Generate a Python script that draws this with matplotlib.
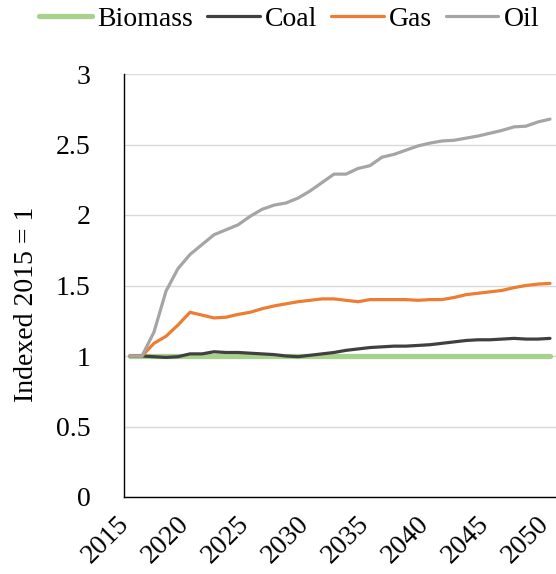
import matplotlib
matplotlib.use('Agg')
import matplotlib.pyplot as plt
from matplotlib.transforms import ScaledTranslation

years = list(range(2015, 2051))
biomass = [1.00, 1.00, 1.00, 1.00, 1.00, 1.00, 1.00, 1.00, 1.00, 1.00, 1.00, 1.00,
           1.00, 1.00, 1.00, 1.00, 1.00, 1.00, 1.00, 1.00, 1.00, 1.00, 1.00, 1.00,
           1.00, 1.00, 1.00, 1.00, 1.00, 1.00, 1.00, 1.00, 1.00, 1.00, 1.00, 1.00]
coal = [1.00, 1.00, 0.995, 0.99, 0.995, 1.015, 1.015, 1.03, 1.025, 1.025, 1.02, 1.015,
        1.01, 1.00, 0.995, 1.005, 1.015, 1.025, 1.04, 1.05, 1.06, 1.065, 1.07, 1.07,
        1.075, 1.08, 1.09, 1.10, 1.11, 1.115, 1.115, 1.12, 1.125, 1.12, 1.12, 1.125]
gas = [1.00, 1.00, 1.09, 1.14, 1.22, 1.31, 1.29, 1.27, 1.275, 1.295, 1.31, 1.335,
       1.355, 1.37, 1.385, 1.395, 1.405, 1.405, 1.395, 1.385, 1.40, 1.40, 1.40, 1.40,
       1.395, 1.40, 1.40, 1.415, 1.435, 1.445, 1.455, 1.465, 1.485, 1.50, 1.51, 1.515]
oil = [1.00, 1.00, 1.17, 1.46, 1.62, 1.72, 1.79, 1.86, 1.895, 1.93, 1.99, 2.04,
       2.07, 2.085, 2.12, 2.17, 2.23, 2.29, 2.29, 2.33, 2.35, 2.41, 2.43, 2.46,
       2.49, 2.51, 2.525, 2.53, 2.545, 2.56, 2.58, 2.60, 2.625, 2.63, 2.66, 2.68]
xticks = [2015, 2020, 2025, 2030, 2035, 2040, 2045, 2050]
yticks = [0, 0.5, 1, 1.5, 2, 2.5, 3]
ytick_labels = ['0', '0.5', '1', '1.5', '2', '2.5', '3']

plt.rcParams['font.family'] = ['Liberation Serif', 'DejaVu Serif']
plt.rcParams['font.size'] = 20

fig = plt.figure(figsize=(5.56, 5.74), dpi=100)
ax = fig.add_axes([124/556, 1 - 497/574, 432/556, 423/574])

ax.plot(years, biomass, color='#A9D18E', lw=3.8, solid_capstyle='round', label='Biomass')
ax.plot(years, coal, color='#404040', lw=2.3, solid_capstyle='round', label='Coal')
ax.plot(years, gas, color='#ED7D31', lw=2.3, solid_capstyle='round', label='Gas')
ax.plot(years, oil, color='#A5A5A5', lw=2.3, solid_capstyle='round', label='Oil')

ax.set_xlim(2014.5, 2050.5)
ax.set_ylim(0, 3)
ax.set_yticks(yticks)
ax.set_yticklabels(ytick_labels)
ax.set_xticks(xticks)
ax.set_xticklabels([str(x) for x in xticks], rotation=45, ha='right',
                   rotation_mode='anchor', va='center')
ax.tick_params(axis='y', length=0, pad=24)
ax.tick_params(axis='x', length=0, pad=17)
ax.grid(axis='y', color='#D9D9D9', lw=1.0)
ax.set_axisbelow(True)
for s in ['top', 'right']:
    ax.spines[s].set_visible(False)
for s in ['left', 'bottom']:
    ax.spines[s].set_color('black')
    ax.spines[s].set_linewidth(1.0)

ax.set_ylabel('Indexed 2015 = 1')
ax.yaxis.set_label_coords(-0.197, 0.456)

fig.legend(loc='upper left', bbox_to_anchor=(38/556, 1 - 5/574), ncol=4, frameon=False,
           handlelength=1.9, handletextpad=0.18, columnspacing=0.5,
           borderpad=0.05, borderaxespad=0)

# nudge rotated year labels a little to the left (after ticks exist)
fig.canvas.draw()
shift = ScaledTranslation(-5/100, 0, fig.dpi_scale_trans)
for t in ax.xaxis.get_major_ticks():
    t.label1.set_transform(t.label1.get_transform() + shift)

fig.savefig('out.png', dpi=100)
